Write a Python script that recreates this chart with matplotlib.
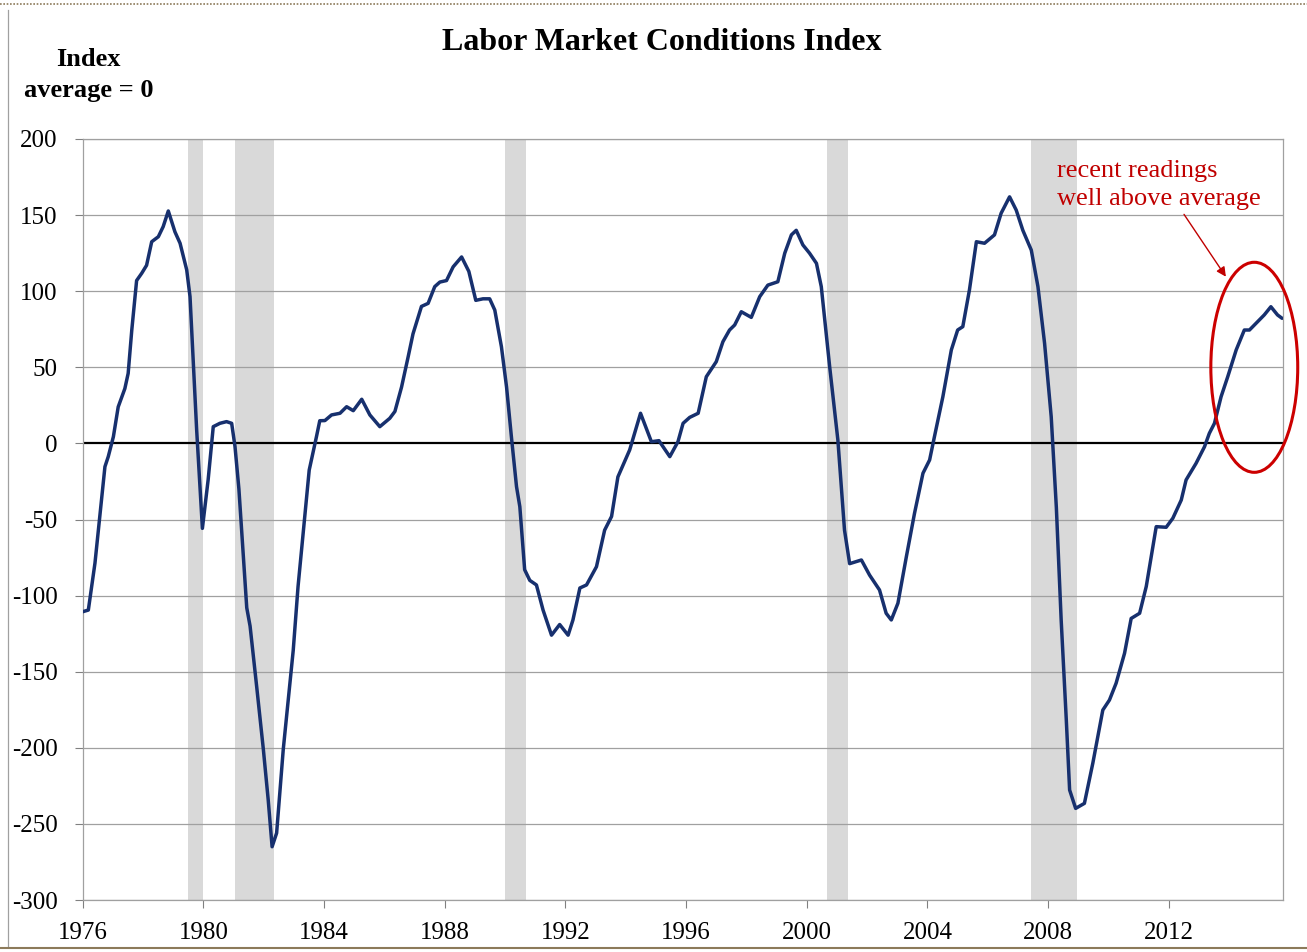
import matplotlib
matplotlib.use("Agg")
import matplotlib.pyplot as plt
from matplotlib.patches import Ellipse
from matplotlib.lines import Line2D

plt.rcParams['font.family'] = ['Liberation Serif', 'DejaVu Serif']
plt.rcParams['axes.unicode_minus'] = False

# Labor Market Conditions Index (decimal year, index value)
years = [1976.00, 1976.19, 1976.41, 1976.58, 1976.74, 1976.85, 1977.02, 1977.18, 1977.40, 1977.51,
         1977.63, 1977.79, 1977.96, 1978.12, 1978.29, 1978.51, 1978.67, 1978.84, 1979.06, 1979.23,
         1979.45, 1979.56, 1979.67, 1979.78, 1979.97, 1980.16, 1980.33, 1980.55, 1980.77, 1980.94,
         1981.05, 1981.18, 1981.44, 1981.55, 1981.77, 1981.99, 1982.15, 1982.28, 1982.43, 1982.65,
         1982.98, 1983.14, 1983.31, 1983.51, 1983.75, 1983.86, 1984.03, 1984.25, 1984.53, 1984.75,
         1984.97, 1985.25, 1985.52, 1985.85, 1986.18, 1986.35, 1986.57, 1986.79, 1986.95, 1987.23,
         1987.45, 1987.67, 1987.84, 1988.06, 1988.28, 1988.56, 1988.80, 1989.03, 1989.27, 1989.49,
         1989.66, 1989.88, 1990.05, 1990.21, 1990.38, 1990.49, 1990.65, 1990.82, 1991.04, 1991.26,
         1991.54, 1991.81, 1992.09, 1992.25, 1992.48, 1992.70, 1993.03, 1993.30, 1993.53, 1993.74,
         1994.13, 1994.49, 1994.85, 1995.10, 1995.46, 1995.73, 1995.90, 1996.12, 1996.40, 1996.67,
         1997.00, 1997.22, 1997.44, 1997.61, 1997.83, 1998.16, 1998.44, 1998.71, 1999.04, 1999.27,
         1999.49, 1999.65, 1999.87, 2000.09, 2000.32, 2000.48, 2000.76, 2001.03, 2001.25, 2001.42,
         2001.81, 2002.08, 2002.41, 2002.63, 2002.80, 2003.02, 2003.30, 2003.57, 2003.85, 2004.07,
         2004.23, 2004.51, 2004.79, 2005.00, 2005.17, 2005.39, 2005.62, 2005.89, 2006.22, 2006.44,
         2006.72, 2006.94, 2007.16, 2007.44, 2007.66, 2007.88, 2008.10, 2008.27, 2008.43, 2008.60,
         2008.71, 2008.91, 2009.20, 2009.48, 2009.81, 2010.03, 2010.25, 2010.53, 2010.75, 2011.03,
         2011.25, 2011.58, 2011.91, 2012.13, 2012.41, 2012.57, 2012.90, 2013.18, 2013.34, 2013.51,
         2013.73, 2013.95, 2014.23, 2014.50, 2014.67, 2014.89, 2015.16, 2015.38, 2015.60, 2015.75]
lmci = [-110.6, -109.5, -78.6, -45.8, -15.3, -8.7, 4.4, 24.0, 36.0, 46.0,
        74.5, 107.0, 111.8, 117.0, 132.5, 135.8, 142.4, 152.7, 139.0, 131.5,
        114.0, 96.4, 52.6, 8.8, -55.8, -24.0, 11.0, 13.2, 14.3, 13.2,
        -2.0, -30.0, -108.0, -120.0, -160.0, -201.0, -234.0, -265.0, -256.0, -201.0,
        -136.0, -94.0, -59.0, -17.5, 4.4, 14.9, 15.0, 18.7, 19.8, 24.1,
        21.5, 29.0, 18.7, 11.0, 16.5, 21.0, 37.0, 57.0, 72.0, 90.0,
        92.0, 103.0, 106.0, 107.0, 116.0, 122.5, 113.0, 94.0, 95.0, 95.0,
        87.6, 63.5, 37.0, 4.4, -28.4, -41.6, -83.0, -90.0, -93.0, -109.5,
        -126.0, -119.0, -126.0, -116.0, -95.0, -93.0, -81.0, -57.0, -48.0, -22.0,
        -4.3, 19.8, 1.1, 1.8, -8.7, 1.1, 13.2, 17.1, 19.8, 43.8,
        53.7, 66.8, 74.5, 77.8, 86.5, 82.8, 96.4, 104.0, 106.2, 125.0,
        137.0, 140.0, 130.4, 125.0, 118.3, 103.0, 50.0, 2.2, -57.0, -79.0,
        -76.6, -86.5, -96.3, -111.6, -116.0, -105.0, -74.4, -45.9, -19.6, -10.9,
        4.4, 30.7, 61.4, 74.5, 76.7, 100.8, 132.5, 131.5, 137.0, 151.2,
        162.0, 153.3, 140.0, 127.0, 103.0, 65.8, 17.5, -42.0, -116.0, -181.7,
        -227.7, -239.8, -236.5, -210.0, -175.2, -168.6, -157.6, -137.9, -115.0, -111.6,
        -94.0, -54.7, -55.1, -49.2, -37.2, -24.0, -13.1, -2.2, 6.6, 13.2,
        30.7, 43.8, 61.4, 74.5, 74.5, 78.9, 84.4, 89.8, 84.4, 82.2]

# shaded recessions (start, end)
recessions = [(1979.50, 1980.00), (1981.05, 1982.35), (1990.00, 1990.68),
              (2000.68, 2001.36), (2007.42, 2008.94)]

x_ticks = [1976, 1980, 1984, 1988, 1992, 1996, 2000, 2004, 2008, 2012]
y_ticks = [200, 150, 100, 50, 0, -50, -100, -150, -200, -250, -300]

fig = plt.figure(figsize=(13.07, 9.52), dpi=100)
ax = fig.add_axes([0.0632, 0.0546, 0.9184, 0.7994])

for start, end in recessions:
    ax.axvspan(start, end, color='#D9D9D9', lw=0, zorder=0)

for yv in y_ticks:
    if yv != 0:
        ax.axhline(yv, color='#A0A0A0', lw=0.9, zorder=1)
ax.axhline(0, color='black', lw=1.6, zorder=2)

ax.plot(years, lmci, color='#17306E', lw=2.5, solid_joinstyle='round',
        solid_capstyle='round', zorder=3)

ax.set_xlim(1976, 2015.78)
ax.set_ylim(-300, 200)
ax.set_xticks(x_ticks)
ax.set_xticklabels([str(t) for t in x_ticks])
ax.set_yticks(y_ticks)
ax.tick_params(axis='both', labelsize=18, color='#808080', direction='out', length=6, width=0.8)
ax.tick_params(axis='y', pad=12)
ax.tick_params(axis='x', pad=10)
for sp in ax.spines.values():
    sp.set_color('#A0A0A0')
    sp.set_linewidth(0.9)

# red annotation
red = '#C00000'
ax.text(2008.28, 170, 'recent readings\nwell above average', color=red, fontsize=19,
        ha='left', va='center', linespacing=1.35, zorder=5)
ax.annotate('', xy=(2013.94, 108), xytext=(2012.45, 152),
            arrowprops=dict(arrowstyle='-|>', color=red, lw=1.0, mutation_scale=14))
ax.add_patch(Ellipse((2014.83, 50), 2.88, 138, fill=False, edgecolor='#CC0000',
                     lw=2.2, clip_on=False, zorder=5))

# titles
fig.text(0.506, 0.955, 'Labor Market Conditions Index', fontsize=23, fontweight='bold',
         ha='center', va='center')
fig.text(0.0677, 0.937, 'Index', fontsize=19, fontweight='bold', ha='center', va='center')
fig.text(0.0677, 0.905, 'average = 0', fontsize=19, fontweight='bold', ha='center', va='center')

# outer frame of the pasted chart
fig.add_artist(Line2D([8 / 1307, 8 / 1307], [6 / 952, 942 / 952], transform=fig.transFigure,
                      color='#A0A0A0', lw=0.9))
fig.add_artist(Line2D([0, 1], [4 / 952, 4 / 952], transform=fig.transFigure,
                      color='#8C7A5A', lw=1.5))
fig.add_artist(Line2D([0, 1], [948 / 952, 948 / 952], transform=fig.transFigure,
                      color='#8C7A5A', lw=1.2, ls=(0, (1, 1))))

fig.savefig('out.png', dpi=100)
